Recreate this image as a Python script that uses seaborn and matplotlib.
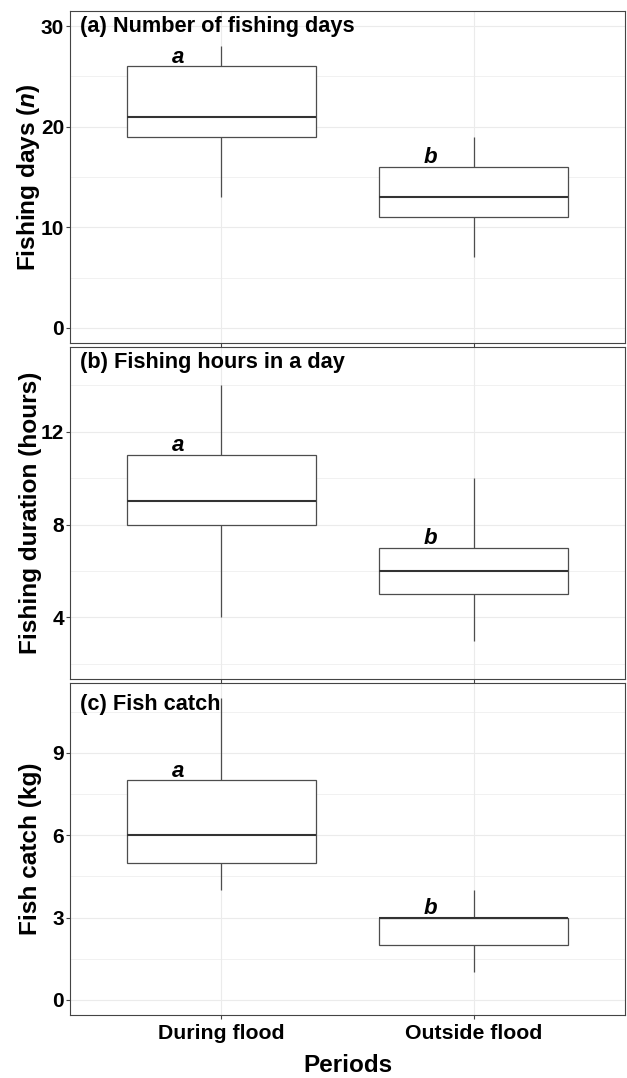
import numpy as np
import pandas as pd
import matplotlib
matplotlib.use("Agg")
import matplotlib.pyplot as plt
import seaborn as sns
from matplotlib.ticker import FixedLocator, MultipleLocator

# Periods compared on the x axis
periods = ["During flood", "Outside flood"]

# Five-number summaries per period: lower whisker, Q1, median, Q3, upper whisker
days_during = [13, 19, 21, 26, 28]
days_outside = [7, 11, 13, 16, 19]
hours_during = [4, 8, 9, 11, 14]
hours_outside = [3, 5, 6, 7, 10]
catch_during = [4, 5, 6, 8, 11]
catch_outside = [1, 2, 3, 3, 4]

# Significance letters above each box
sig_letters = ["a", "b"]

panel_titles = ["(a) Number of fishing days",
                "(b) Fishing hours in a day",
                "(c) Fish catch"]
y_labels = [r"Fishing days ($\mathit{n}$)",
            "Fishing duration (hours)",
            "Fish catch (kg)"]
y_ticks = [[0, 10, 20, 30], [4, 8, 12], [0, 3, 6, 9]]
y_limits = [(0, 30), (2, 15), (0, 11)]
title_y = [30, 15, 10.75]

sns.set_theme(style="white")
plt.rcParams["font.family"] = ["Liberation Sans", "DejaVu Sans"]
plt.rcParams["font.weight"] = "bold"
plt.rcParams["mathtext.fontset"] = "custom"
plt.rcParams["mathtext.it"] = "Liberation Sans:italic:bold"
plt.rcParams["mathtext.rm"] = "Liberation Sans:bold"

summaries = [(days_during, days_outside),
             (hours_during, hours_outside),
             (catch_during, catch_outside)]

fig = plt.figure(figsize=(6.27, 10.78), dpi=100)
W, H = 627, 1078
left, right = 70, 625
panel_px = [(11, 343), (347, 679), (683, 1015)]

border = "#444444"
grid_c = "#EBEBEB"

for i, (top, bottom) in enumerate(panel_px):
    ax = fig.add_axes([left / W, 1 - bottom / H, (right - left) / W, (bottom - top) / H])
    rows = []
    for period, stats in zip(periods, summaries[i]):
        for v in stats:
            rows.append({"Period": period, "value": v})
    df = pd.DataFrame(rows)

    sns.boxplot(data=df, x="Period", y="value", order=periods, ax=ax,
                width=0.75, whis=(0, 100), showfliers=False, showcaps=False,
                color="white", linecolor="#4d4d4d", linewidth=0.9,
                medianprops=dict(color="#333333", linewidth=1.5),
                zorder=3)

    lo, hi = y_limits[i]
    pad = 0.05 * (hi - lo)
    ax.set_ylim(lo - pad, hi + pad)
    ax.set_xlim(-0.6, 1.6)

    ax.yaxis.set_major_locator(FixedLocator(y_ticks[i]))
    step = y_ticks[i][1] - y_ticks[i][0]
    ax.yaxis.set_minor_locator(MultipleLocator(step / 2))
    ax.grid(True, which="major", color=grid_c, linewidth=0.8, zorder=0)
    ax.grid(True, which="minor", axis="y", color=grid_c, linewidth=0.5, zorder=0)
    ax.set_axisbelow(True)

    for s in ax.spines.values():
        s.set_visible(True)
        s.set_color(border)
        s.set_linewidth(0.8)

    ax.tick_params(axis="both", which="major", direction="out", length=3,
                   width=0.8, color=border, left=True, bottom=True)
    ax.tick_params(axis="y", which="minor", length=0)
    ax.tick_params(axis="y", labelsize=15, pad=1.2, labelcolor="black")
    ax.tick_params(axis="x", labelsize=15.3, pad=3.5, labelcolor="black")
    for lab in ax.get_yticklabels() + ax.get_xticklabels():
        lab.set_fontweight("bold")

    ax.set_ylabel(y_labels[i], fontsize=17.6, fontweight="bold", color="black")
    ax.yaxis.set_label_coords(-0.050, 0.5)

    if i < 2:
        ax.set_xticklabels([])
        ax.set_xlabel("")
    else:
        ax.set_xlabel("Periods", fontsize=17.5, fontweight="bold", color="black")
        ax.xaxis.set_label_coords(0.5, -0.118)

    ax.text(-0.56, title_y[i], panel_titles[i], ha="left", va="center",
            fontsize=15.7, fontweight="bold", color="black", zorder=5)

    # letter above each box's upper quartile
    for j, stats in enumerate(summaries[i]):
        ax.annotate(sig_letters[j], xy=(j - 0.17, stats[3]), xytext=(0, -1),
                    textcoords="offset points", ha="center", va="bottom",
                    fontsize=16, fontweight="bold", fontstyle="italic",
                    color="black", zorder=5)

fig.savefig("out.png", dpi=100, facecolor="white")
